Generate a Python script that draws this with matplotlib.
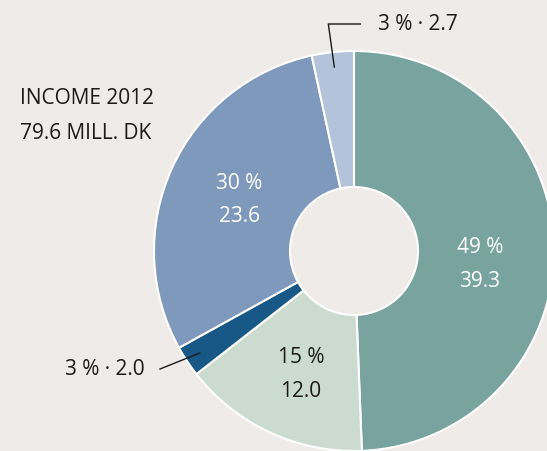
import matplotlib
import matplotlib.pyplot as plt
import numpy as np

font = {'size': 15, 'family': ['Open Sans', 'DejaVu Sans']}
matplotlib.rc('font', **font)

values = [39.3, 12.0, 2.0, 23.6, 2.7]
percents = [49, 15, 3, 30, 3]
colors = ['#78a39f', '#cbdbd0', '#175887', '#7f99bd', '#b3c4da']
label_colors = ['white', '#1a1a1a', None, 'white', None]
title = "INCOME 2012\n79.6 MILL. DK"
bg = '#efebe8'

fig = plt.figure(figsize=(5.47, 4.52), dpi=100)
fig.patch.set_facecolor(bg)
ax = fig.add_axes([0, 0, 1, 1])
ax.set_facecolor(bg)

cx, cy, R = 354, 200, 200
wedges, _ = ax.pie(values, colors=colors, startangle=90, counterclock=False,
                   radius=R, center=(cx, cy),
                   wedgeprops=dict(width=R * 0.68, edgecolor='white', linewidth=1.5))
ax.set_xlim(0, 547)
ax.set_ylim(0, 452)
ax.set_aspect('equal')
ax.axis('off')

# inside labels (some sit a bit lower in the original)
nudge = [-15, -8, 0, 0, 0]
for w, v, p, c, d in zip(wedges, values, percents, label_colors, nudge):
    if c is None:
        continue
    a = np.deg2rad((w.theta1 + w.theta2) / 2)
    x = cx + 126 * np.cos(a)
    y = cy + 126 * np.sin(a) + d
    ax.text(x, y, "%d %%\n%.1f" % (p, v), ha='center', va='center', color=c,
            linespacing=1.8)

# small slices with leader lines
w = wedges[4]
a = np.deg2rad((w.theta1 + w.theta2) / 2)
x0, y0 = cx + 185 * np.cos(a), cy + 185 * np.sin(a)
ax.plot([x0, x0 - 6, x0 + 26], [y0, 427, 427], color='#1a1a1a', lw=1)
ax.text(378, 428, "%d %% · %.1f" % (percents[4], values[4]), ha='left', va='center',
        color='#1a1a1a')

w = wedges[2]
a = np.deg2rad((w.theta1 + w.theta2) / 2)
x0, y0 = cx + 185 * np.cos(a), cy + 185 * np.sin(a)
ax.plot([x0, 160], [y0, 82], color='#1a1a1a', lw=1)
ax.text(145, 82, "%d %% · %.1f" % (percents[2], values[2]), ha='right', va='center',
        color='#1a1a1a')

ax.text(20, 336, title, ha='left', va='center', color='#1a1a1a', linespacing=1.9)

plt.savefig("out.png", facecolor=bg)
